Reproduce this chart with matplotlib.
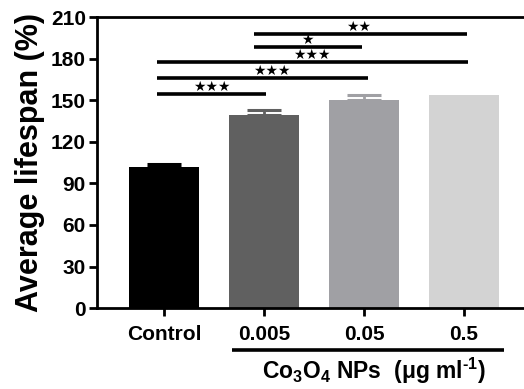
import matplotlib.pyplot as plt

plt.rcParams['font.family'] = ['Liberation Sans', 'DejaVu Sans']
plt.rcParams['font.weight'] = 'bold'
plt.rcParams['mathtext.fontset'] = 'custom'
plt.rcParams['mathtext.rm'] = 'Liberation Sans:bold'
plt.rcParams['mathtext.bf'] = 'Liberation Sans:bold'
plt.rcParams['mathtext.default'] = 'bf'

groups = ['Control', '0.005', '0.05', '0.5']
lifespan = [101.5, 139.5, 150.5, 154.0]
err = [2.5, 3.5, 3.5, 0.0]
bar_colors = ['#000000', '#606060', '#a0a0a4', '#d3d3d3']

# significance brackets: (x start, x end, height, stars, star x)
sig_x0 = [-0.07, -0.07, -0.07, 0.9, 0.9]
sig_x1 = [1.02, 2.04, 3.04, 1.98, 3.03]
sig_y = [154.4, 165.8, 177.3, 188.6, 197.7]
sig_txt = ['★★★', '★★★', '★★★', '★', '★★']
sig_tx = [0.48, 1.08, 1.48, 1.43, 1.95]

fig = plt.figure(figsize=(5.24, 3.89), dpi=100)
ax = fig.add_axes([0.185, 0.208, 0.815, 0.748])

x = range(len(groups))
ax.bar(x, lifespan, width=0.7, color=bar_colors)
for i in x:
    if err[i] > 0:
        ax.errorbar(i, lifespan[i], yerr=[[0], [err[i]]], fmt='none',
                    ecolor=bar_colors[i], elinewidth=2, capsize=12, capthick=2.2)

for a, b, h, t, tx in zip(sig_x0, sig_x1, sig_y, sig_txt, sig_tx):
    ax.plot([a, b], [h, h], color='black', lw=2.6, solid_capstyle='butt')
    ax.text(tx, h + 0.2, t, ha='center', va='bottom', fontsize=10,
            family='DejaVu Sans', color='black')

ax.set_xlim(-0.67, 3.6)
ax.set_ylim(0, 210)
ax.set_yticks(range(0, 211, 30))
ax.set_xticks(list(x))
ax.set_xticklabels(groups)
ax.tick_params(axis='both', direction='out', length=6, width=2, labelsize=15)
ax.tick_params(axis='x', pad=6)
ax.tick_params(axis='y', pad=2)
for s in ['left', 'bottom', 'top']:
    ax.spines[s].set_linewidth(2)
ax.spines['right'].set_visible(False)
ax.set_ylabel('Average lifespan (%)', fontsize=22, fontweight='bold', labelpad=4)

# Co3O4 group bracket under x labels
ax.plot([0.68, 3.4], [-30.5, -30.5], color='black', lw=2.6, clip_on=False,
        solid_capstyle='butt')
ax.text(2.1, -45.5, r'Co$_3$O$_4$ NPs  ($\mu$g ml$^{\text{-}1}$)',
        ha='center', va='center', fontsize=16.5, fontweight='bold')

fig.savefig('out.png', dpi=100)
